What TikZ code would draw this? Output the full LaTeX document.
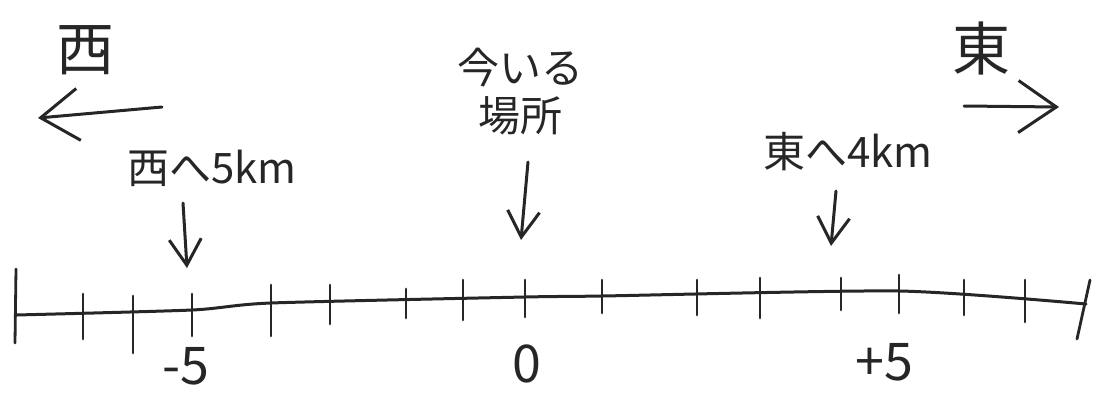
\documentclass[tikz,border=0pt]{standalone}
\usepackage{fontspec}
\newfontfamily\cjk{Noto Sans CJK JP}
\usetikzlibrary{arrows.meta}
\begin{document}
\begin{tikzpicture}[x=1pt,y=-1pt,
  ink/.style={line width=3pt,line cap=round,line join=round,black!85},
  tickmark/.style={line width=2.8pt,line cap=round,black!85},
  bigarr/.style={ink,-{Straight Barb[length=38pt,width=52pt,line width=3pt]}},
  smallarr/.style={ink,-{Straight Barb[length=26pt,width=32pt,line width=3pt]}},
  dirlab/.style={font=\cjk\fontsize{58}{60}\selectfont,inner sep=0pt,text=black!85},
  midlab/.style={font=\cjk\fontsize{42}{48}\selectfont,inner sep=0pt,text=black!85,align=center},
  numlab/.style={font=\cjk\fontsize{52}{54}\selectfont,inner sep=0pt,text=black!85}]
\useasboundingbox (0,0) rectangle (1094,392);

% main number line
\draw[ink] plot[smooth,tension=0.4] coordinates {(16,315) (192,310) (271,303) (525,297) (602,296) (899,291) (1086,304)};

% ticks
\draw[tickmark] (16,269) -- (15,343);
\foreach \x/\t/\b in {83/294/339,133/296/353,192/294/336,271/285/336,330/285/324,406/289/318,463/280/320,525/280/317,602/280/313,697/280/315,760/278/318,841/278/310,899/275/313,964/280/315,1025/280/322}
  \draw[tickmark] (\x,\t) -- (\x,\b);
\draw[tickmark] (1090,280) -- (1077,339);

% direction labels and arrows
\node[dirlab] (west) at (85,50) {西};
\node[dirlab] (east) at (981,48) {東};
\coordinate (wa) at (162,107);
\coordinate (wb) at (38,118);
\coordinate (ea) at (964,106);
\coordinate (eb) at (1059,107);
\draw[bigarr] (wa) -- (wb);
\draw[bigarr] (ea) -- (eb);

% annotations
\node[midlab] (w5) at (212,168) {西へ5km};
\node[midlab] (here) at (520,92) {今いる\\場所};
\node[midlab] (e4) at (848,152) {東へ4km};
\coordinate (w5s) at (183,203);
\coordinate (w5t) at (187,268);
\coordinate (hs) at (528,162);
\coordinate (ht) at (521,240);
\coordinate (e4s) at (836,191);
\coordinate (e4t) at (831,246);
\draw[smallarr] (w5s) -- (w5t);
\draw[smallarr] (hs) -- (ht);
\draw[smallarr] (e4s) -- (e4t);

% numbers
\node[numlab] (nm5) at (186,366) {-5};
\node[numlab] (n0) at (527,364) {0};
\node[numlab] (np5) at (884,362) {+5};
\end{tikzpicture}
\end{document}
